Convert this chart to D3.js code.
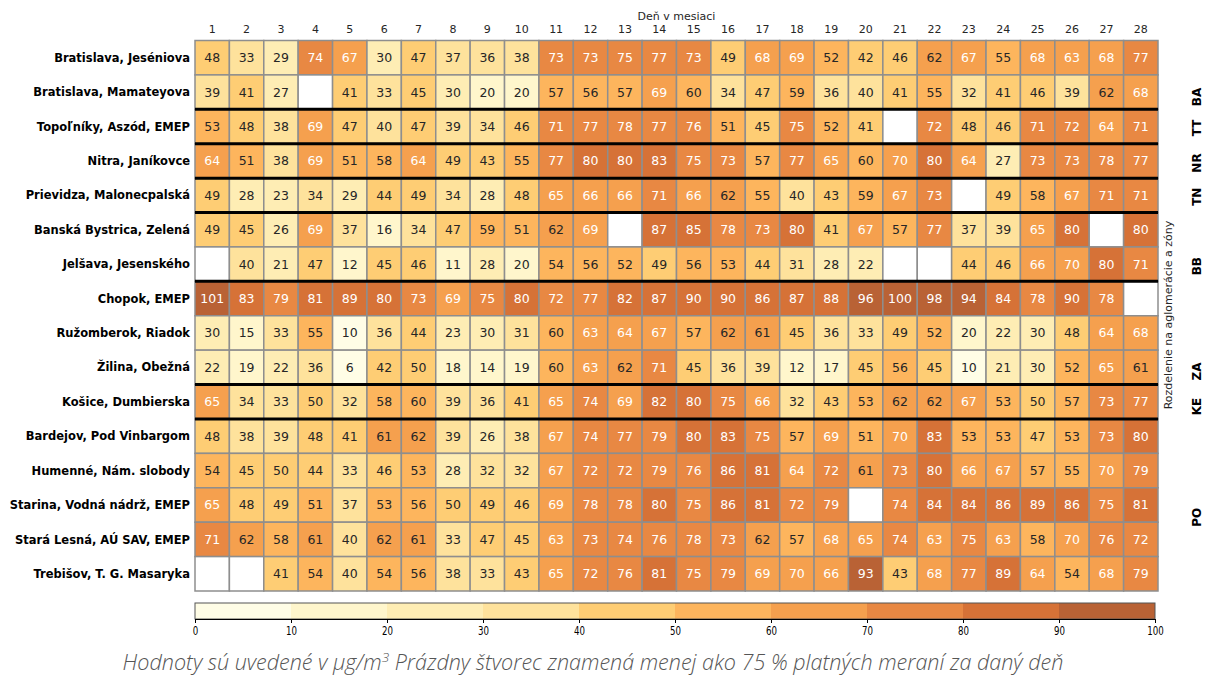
<!DOCTYPE html>
<html><head><meta charset="utf-8">
<script src="https://cdn.jsdelivr.net/npm/d3@7"></script>
<style>body{margin:0;background:#fff;} svg{display:block;}</style>
</head><body>
<svg id="chart" width="1205" height="675"></svg>
<script>
// ---------- DATA ----------
const days = d3.range(1, 29).map(String);
const stations = [
  "Bratislava, Jeséniova","Bratislava, Mamateyova","Topoľníky, Aszód, EMEP","Nitra, Janíkovce",
  "Prievidza, Malonecpalská","Banská Bystrica, Zelená","Jelšava, Jesenského","Chopok, EMEP",
  "Ružomberok, Riadok","Žilina, Obežná","Košice, Dumbierska","Bardejov, Pod Vinbargom",
  "Humenné, Nám. slobody","Starina, Vodná nádrž, EMEP","Stará Lesná, AÚ SAV, EMEP","Trebišov, T. G. Masaryka"
];
const N = null;
const values = [
  [48,33,29,74,67,30,47,37,36,38,73,73,75,77,73,49,68,69,52,42,46,62,67,55,68,63,68,77],
  [39,41,27,N,41,33,45,30,20,20,57,56,57,69,60,34,47,59,36,40,41,55,32,41,46,39,62,68],
  [53,48,38,69,47,40,47,39,34,46,71,77,78,77,76,51,45,75,52,41,N,72,48,46,71,72,64,71],
  [64,51,38,69,51,58,64,49,43,55,77,80,80,83,75,73,57,77,65,60,70,80,64,27,73,73,78,77],
  [49,28,23,34,29,44,49,34,28,48,65,66,66,71,66,62,55,40,43,59,67,73,N,49,58,67,71,71],
  [49,45,26,69,37,16,34,47,59,51,62,69,N,87,85,78,73,80,41,67,57,77,37,39,65,80,N,80],
  [N,40,21,47,12,45,46,11,28,20,54,56,52,49,56,53,44,31,28,22,N,N,44,46,66,70,80,71],
  [101,83,79,81,89,80,73,69,75,80,72,77,82,87,90,90,86,87,88,96,100,98,94,84,78,90,78,N],
  [30,15,33,55,10,36,44,23,30,31,60,63,64,67,57,62,61,45,36,33,49,52,20,22,30,48,64,68],
  [22,19,22,36,6,42,50,18,14,19,60,63,62,71,45,36,39,12,17,45,56,45,10,21,30,52,65,61],
  [65,34,33,50,32,58,60,39,36,41,65,74,69,82,80,75,66,32,43,53,62,62,67,53,50,57,73,77],
  [48,38,39,48,41,61,62,39,26,38,67,74,77,79,80,83,75,57,69,51,70,83,53,53,47,53,73,80],
  [54,45,50,44,33,46,53,28,32,32,67,72,72,79,76,86,81,64,72,61,73,80,66,67,57,55,70,79],
  [65,48,49,51,37,53,56,50,49,46,69,78,78,80,75,86,81,72,79,N,74,84,84,86,89,86,75,81],
  [71,62,58,61,40,62,61,33,47,45,63,73,74,76,78,73,62,57,68,65,74,63,75,63,58,70,76,72],
  [N,N,41,54,40,54,56,38,33,43,65,72,76,81,75,79,69,70,66,93,43,68,77,89,64,54,68,79]
];
const zoneNames = ["BA","TT","NR","TN","BB","ZA","KE","PO"];
const zoneFirstRow = [0,2,3,4,5,7,10,11];
const zoneLastRow  = [1,2,3,4,6,9,10,15];
const colorbarTicks = [0,10,20,30,40,50,60,70,80,90,100];
const xAxisTitle = "Deň v mesiaci";
const zoneAxisTitle = "Rozdelenie na aglomerácie a zóny";

// ---------- STYLE / LAYOUT ----------
const palette = ["#fffde6","#fff6cc","#feedb4","#fee29c","#fecd74","#fdb55d","#f5a04e","#e88843","#d67237","#b96235"];
const colorBreaks = [10.5,20.5,30.5,40.5,50.5,60.5,70.5,79.5,90.5];
const zoneLabelRow = [1.64,2.54,3.56,4.54,6.56,9.62,10.64,13.86]; // label anchor in row units
const svg = d3.select("#chart");
const gridL = 195, gridR = 1158, gridT = 40.5, gridB = 591;
const font = "DejaVu Sans, sans-serif";

const x = d3.scaleBand().domain(days).range([gridL, gridR]);
const y = d3.scaleBand().domain(stations).range([gridT, gridB]);
const color = d3.scaleThreshold().domain(colorBreaks).range(palette);
const colorOf = v => v == null ? "#ffffff" : color(v);

const cells = [];
values.forEach((row, i) => row.forEach((v, j) => cells.push({st: stations[i], day: days[j], v})));

const g = svg.append("g");
g.selectAll("rect.cell").data(cells).join("rect")
  .attr("class","cell")
  .attr("x", d => x(d.day)).attr("y", d => y(d.st))
  .attr("width", x.bandwidth()).attr("height", y.bandwidth())
  .attr("fill", d => colorOf(d.v))
  .attr("stroke", "#8e8e8e").attr("stroke-width", 1.5);

g.selectAll("text.val").data(cells.filter(d => d.v != null)).join("text")
  .attr("class","val")
  .attr("x", d => x(d.day) + x.bandwidth()/2)
  .attr("y", d => y(d.st) + y.bandwidth()/2)
  .attr("dy", "0.36em")
  .attr("text-anchor","middle")
  .attr("font-family", font).attr("font-size", 12.5)
  .attr("fill", d => d.v > 62 ? "#ffffff" : "#262626")
  .text(d => d.v);

// group separators
const seps = zoneLastRow.slice(0, -1);
g.selectAll("line.sep").data(seps).join("line")
  .attr("x1", gridL).attr("x2", gridR)
  .attr("y1", d => y(stations[d]) + y.bandwidth())
  .attr("y2", d => y(stations[d]) + y.bandwidth())
  .attr("stroke", "#000").attr("stroke-width", 3);

// row labels
svg.append("g").selectAll("text").data(stations).join("text")
  .attr("x", gridL - 5).attr("y", d => y(d) + y.bandwidth()/2).attr("dy","0.36em")
  .attr("text-anchor","end").attr("font-family", font).attr("font-weight","bold")
  .attr("font-size", 11.5).attr("fill","#000").text(d => d);

// top axis
const xAxis = d3.axisTop(x).tickSize(0).tickPadding(0);
const ax = svg.append("g").attr("transform", `translate(0,${gridT - 8})`).call(xAxis);
ax.select(".domain").remove();
ax.selectAll("text").attr("font-family", font).attr("font-size", 11).attr("fill","#262626");
svg.append("text").attr("x", (gridL+gridR)/2).attr("y", 20).attr("text-anchor","middle")
  .attr("font-family", font).attr("font-size", 11).attr("fill","#262626").text(xAxisTitle);

// right zone titles
svg.append("text").attr("transform", `translate(1172,315) rotate(-90)`).attr("text-anchor","middle")
  .attr("font-family", font).attr("font-size", 11).attr("fill","#262626").text(zoneAxisTitle);
const rowH = y.bandwidth();
svg.append("g").selectAll("text").data(zoneNames).join("text")
  .attr("transform", (d,i) => `translate(1201,${gridT + zoneLabelRow[i]*rowH}) rotate(-90)`)
  .attr("text-anchor","middle")
  .attr("font-family", font).attr("font-weight","bold").attr("font-size", 12).attr("fill","#000")
  .text(d => d);

// colorbar
const cbT = 603, cbH = 16;
const cx = d3.scaleLinear().domain([0,100]).range([195, 1155]);
const cb = svg.append("g");
cb.selectAll("rect").data(palette).join("rect")
  .attr("x", (d,i) => cx(i*10)).attr("y", cbT)
  .attr("width", (d,i) => cx((i+1)*10) - cx(i*10)).attr("height", cbH)
  .attr("fill", d => d);
cb.append("rect").attr("x", cx(0)).attr("y", cbT).attr("width", cx(100)-cx(0)).attr("height", cbH)
  .attr("fill","none").attr("stroke","#555").attr("stroke-width",1);
const cbAxis = d3.axisBottom(cx).tickValues(colorbarTicks).tickSize(4).tickPadding(3);
const cba = svg.append("g").attr("transform", `translate(0,${cbT+cbH})`).call(cbAxis);
cba.select(".domain").attr("stroke","#000");
cba.selectAll(".tick line").attr("stroke","#000");
cba.selectAll(".tick text").attr("font-family", font).attr("font-size", 12).attr("fill","#000")
  .style("transform-box","fill-box").style("transform-origin","center").style("transform","scaleX(0.72)");

// caption
const cap = svg.append("text").attr("x", 593).attr("y", 670).attr("text-anchor","middle")
  .attr("font-family","Open Sans, sans-serif").attr("font-style","italic").attr("font-weight",300)
  .attr("font-size", 21).attr("fill","#555555");
cap.append("tspan").text("Hodnoty sú uvedené v μg/m");
cap.append("tspan").attr("font-size", 13).attr("dy", -8).text("3");
cap.append("tspan").attr("dy", 8).text(" Prázdny štvorec znamená menej ako 75 % platných meraní za daný deň");
const w = cap.node().getComputedTextLength();
const target = 941;
const fs = 21 * target / w;
cap.attr("font-size", fs);
cap.select("tspan:nth-child(2)").attr("font-size", fs*0.62);
</script>
</body></html>
